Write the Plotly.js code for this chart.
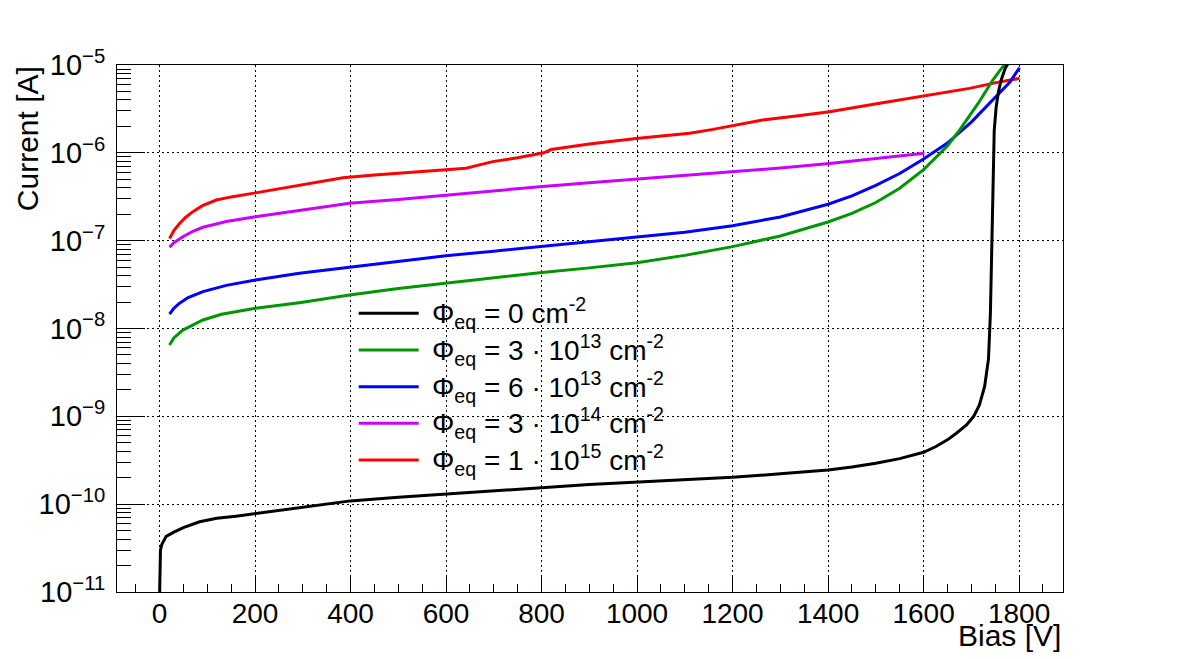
<!DOCTYPE html>
<html>
<head>
<meta charset="utf-8">
<script src="https://cdn.plot.ly/plotly-3.0.1.min.js"></script>
<style>
  html, body { margin: 0; padding: 0; background: #ffffff; }
  #plot { width: 1182px; height: 659px; }
</style>
</head>
<body>
<div id="plot"></div>
<script>
// I-V curves of sensors at several equivalent fluences

// Φeq = 0 cm^-2
const bias0 = [0, 0.5, 2, 5, 14, 30, 50, 84, 120, 160, 200, 300, 400, 500, 600, 700, 800, 900, 1000,
  1100, 1200, 1300, 1400, 1450, 1500, 1550, 1600, 1625, 1650, 1670, 1690, 1705, 1717, 1728, 1736,
  1740, 1743, 1745.5, 1748, 1752, 1757, 1762, 1767, 1771, 1777];
const current0 = [8e-12, 2.5e-11, 3.0e-11, 3.5e-11, 4.3e-11, 4.8e-11, 5.4e-11, 6.3e-11, 6.9e-11, 7.3e-11,
  7.8e-11, 9.2e-11, 1.09e-10, 1.2e-10, 1.31e-10, 1.43e-10, 1.54e-10, 1.67e-10, 1.79e-10,
  1.9e-10, 2.02e-10, 2.22e-10, 2.45e-10, 2.65e-10, 2.92e-10, 3.3e-10, 3.9e-10, 4.5e-10, 5.4e-10,
  6.5e-10, 8.0e-10, 1.0e-9, 1.35e-9, 2.2e-9, 4.5e-9, 1.5e-8, 1.0e-7, 1.0e-6, 1.8e-6, 3.3e-6,
  5.0e-6, 6.6e-6, 8.0e-6, 9.2e-6, 1.04e-5];

// Φeq = 3·10^13 cm^-2
const bias1 = [21, 30, 49, 70, 91, 130, 201, 293, 398, 500, 600, 700, 796, 900, 1000, 1100, 1200,
  1300, 1400, 1450, 1500, 1550, 1600, 1625, 1650, 1675, 1700, 1715, 1730, 1745, 1760, 1772];
const current1 = [6.5e-9, 7.8e-9, 9.6e-9, 1.1e-8, 1.25e-8, 1.45e-8, 1.7e-8, 1.97e-8, 2.4e-8, 2.85e-8,
  3.3e-8, 3.8e-8, 4.32e-8, 4.9e-8, 5.6e-8, 6.8e-8, 8.55e-8, 1.13e-7, 1.63e-7, 2.04e-7, 2.72e-7,
  3.95e-7, 6.45e-7, 8.8e-7, 1.2e-6, 1.8e-6, 2.8e-6, 3.7e-6, 5.0e-6, 6.75e-6, 8.7e-6, 1.05e-5];

// Φeq = 6·10^13 cm^-2
const bias2 = [21, 30, 42, 60, 91, 140, 201, 293, 398, 500, 600, 700, 796, 900, 1000, 1100, 1200,
  1300, 1400, 1450, 1500, 1550, 1600, 1650, 1700, 1725, 1750, 1780, 1801];
const current2 = [1.46e-8, 1.7e-8, 1.94e-8, 2.25e-8, 2.63e-8, 3.1e-8, 3.56e-8, 4.25e-8, 4.97e-8, 5.8e-8,
  6.75e-8, 7.6e-8, 8.53e-8, 9.6e-8, 1.09e-7, 1.245e-7, 1.48e-7, 1.86e-7, 2.6e-7, 3.24e-7, 4.27e-7,
  5.82e-7, 8.5e-7, 1.29e-6, 2.24e-6, 3.1e-6, 4.2e-6, 6.3e-6, 9.3e-6];

// Φeq = 3·10^14 cm^-2
const bias3 = [21, 30, 49, 70, 91, 140, 201, 293, 398, 500, 600, 700, 796, 900, 998, 1100, 1208,
  1300, 1403, 1500, 1602];
const current3 = [8.4e-8, 9.5e-8, 1.11e-7, 1.28e-7, 1.42e-7, 1.65e-7, 1.87e-7, 2.19e-7, 2.66e-7, 2.95e-7,
  3.31e-7, 3.7e-7, 4.11e-7, 4.55e-7, 4.99e-7, 5.5e-7, 6.1e-7, 6.7e-7, 7.58e-7, 8.6e-7, 9.9e-7];

// Φeq = 1·10^15 cm^-2
const bias4 = [21, 30, 42, 55, 70, 90, 119, 150, 201, 250, 293, 340, 384, 450, 503, 550, 600, 642,
  670, 698, 750, 796, 805, 820, 900, 998, 1110, 1159, 1208, 1263, 1333, 1403, 1508, 1550, 1606,
  1650, 1696, 1752, 1801];
const current4 = [1.06e-7, 1.3e-7, 1.57e-7, 1.85e-7, 2.14e-7, 2.5e-7, 2.9e-7, 3.15e-7, 3.5e-7, 3.9e-7,
  4.3e-7, 4.75e-7, 5.2e-7, 5.6e-7, 5.85e-7, 6.1e-7, 6.38e-7, 6.67e-7, 7.3e-7, 7.94e-7, 8.8e-7,
  9.7e-7, 1.0e-6, 1.09e-6, 1.26e-6, 1.46e-6, 1.67e-6, 1.85e-6, 2.07e-6, 2.37e-6, 2.63e-6, 2.94e-6,
  3.66e-6, 4.0e-6, 4.55e-6, 4.9e-6, 5.42e-6, 6.3e-6, 7.05e-6];

const seriesNames = [
  'Φ<sub>eq</sub> = 0 cm<sup>-2</sup>',
  'Φ<sub>eq</sub> = 3 · 10<sup>13</sup> cm<sup>-2</sup>',
  'Φ<sub>eq</sub> = 6 · 10<sup>13</sup> cm<sup>-2</sup>',
  'Φ<sub>eq</sub> = 3 · 10<sup>14</sup> cm<sup>-2</sup>',
  'Φ<sub>eq</sub> = 1 · 10<sup>15</sup> cm<sup>-2</sup>'
];
const seriesColors = ['#000000', '#009600', '#0000ff', '#cc00ff', '#ff0000'];

// decade ticks of the current axis
const yTickVals = [1e-11, 1e-10, 1e-9, 1e-8, 1e-7, 1e-6, 1e-5];
const yTickText = ['10<sup>−11</sup>', '10<sup>−10</sup>', '10<sup>−9</sup>', '10<sup>−8</sup>',
  '10<sup>−7</sup>', '10<sup>−6</sup>', '10<sup>−5</sup>'];

const xTitle = 'Bias [V]';
const yTitle = 'Current [A]';

const biasSets = [bias0, bias1, bias2, bias3, bias4];
const currentSets = [current0, current1, current2, current3, current4];

const FONT = 'Liberation Sans, Arial, Helvetica, sans-serif';

// minor ticks at 2..9 within every decade
const yMinorVals = [];
for (let e = -11; e < -5; e++) {
  for (let m = 2; m <= 9; m++) yMinorVals.push(m * Math.pow(10, e));
}

// draw lower-fluence curves last so the black one sits on top
const drawOrder = [4, 3, 2, 1, 0];
const traces = drawOrder.map(i => ({
  type: 'scatter',
  mode: 'lines',
  x: biasSets[i],
  y: currentSets[i],
  name: seriesNames[i],
  line: { color: seriesColors[i], width: 3 },
  showlegend: false,
  hoverinfo: 'skip'
}));

// hand-placed legend box (paper coordinates)
const legendBox = { x0: 0.2418, x1: 0.6131, y0: 0.2201, y1: 0.5693 };
const legendTop = 0.5288, legendStep = 0.0696;
const sampleX0 = 0.2555, sampleX1 = 0.3189, textX = 0.3313;

const shapes = [{
  type: 'rect', xref: 'paper', yref: 'paper',
  x0: legendBox.x0, x1: legendBox.x1, y0: legendBox.y0, y1: legendBox.y1,
  fillcolor: '#ffffff', line: { width: 0 }, layer: 'between'
}];
const annotations = [];
seriesNames.forEach((name, i) => {
  const yy = legendTop - i * legendStep;
  shapes.push({
    type: 'line', xref: 'paper', yref: 'paper',
    x0: sampleX0, x1: sampleX1, y0: yy, y1: yy,
    line: { color: seriesColors[i], width: 3 }, layer: 'above'
  });
  annotations.push({
    xref: 'paper', yref: 'paper', x: textX, y: yy,
    xanchor: 'left', yanchor: 'middle', showarrow: false,
    text: name, font: { family: FONT, size: 28, color: '#000' }
  });
});

// axis titles, aligned to the axis ends
annotations.push({
  xref: 'paper', yref: 'paper', x: 1.0, y: -0.082,
  xanchor: 'right', yanchor: 'middle', showarrow: false,
  text: xTitle, font: { family: FONT, size: 30, color: '#000' }
});
annotations.push({
  xref: 'paper', yref: 'paper', x: -0.0944, y: 1.002,
  xanchor: 'center', yanchor: 'top', showarrow: false, textangle: -90,
  text: yTitle, font: { family: FONT, size: 30, color: '#000' }
});

const gridDash = '2px,3px';

const layout = {
  width: 1182,
  height: 659,
  margin: { l: 117, r: 119, t: 65, b: 67, pad: 0 },
  paper_bgcolor: '#ffffff',
  plot_bgcolor: '#ffffff',
  showlegend: false,
  font: { family: FONT, color: '#000' },
  xaxis: {
    type: 'linear',
    range: [-89, 1892],
    tick0: 0,
    dtick: 200,
    ticks: 'inside',
    ticklen: 16,
    tickwidth: 1,
    tickcolor: '#000',
    ticklabelstandoff: -4,
    tickfont: { family: FONT, size: 28, color: '#000' },
    showline: true, linecolor: '#000', linewidth: 1, mirror: true,
    showgrid: true, gridcolor: '#000', gridwidth: 1, griddash: gridDash,
    zeroline: false,
    minor: { dtick: 50, tick0: 0, ticks: 'inside', ticklen: 8, tickwidth: 1, tickcolor: '#000', showgrid: false }
  },
  yaxis: {
    type: 'log',
    range: [-11, -5],
    tickmode: 'array',
    tickvals: yTickVals,
    ticktext: yTickText,
    ticks: 'inside',
    ticklen: 28,
    tickwidth: 1,
    tickcolor: '#000',
    ticklabelstandoff: 5,
    tickfont: { family: FONT, size: 29, color: '#000' },
    showline: true, linecolor: '#000', linewidth: 1, mirror: true,
    showgrid: true, gridcolor: '#000', gridwidth: 1, griddash: gridDash,
    zeroline: false,
    minor: { tickmode: 'array', tickvals: yMinorVals, ticks: 'inside', ticklen: 14, tickwidth: 1, tickcolor: '#000', showgrid: false }
  },
  shapes: shapes,
  annotations: annotations
};

Plotly.newPlot('plot', traces, layout, { staticPlot: true, displayModeBar: false });
</script>
</body>
</html>
